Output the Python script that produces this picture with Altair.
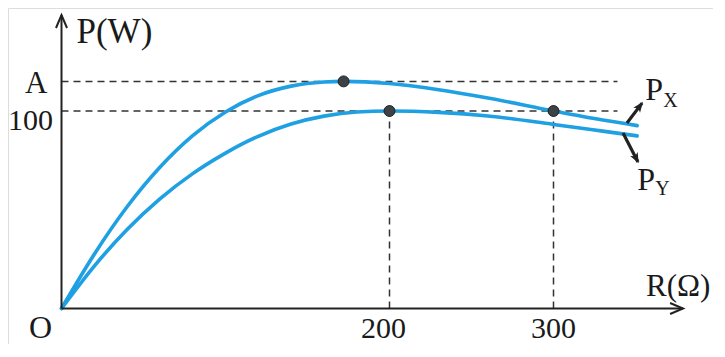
import altair as alt
import pandas as pd

# ---------------- data ----------------
# curve P_X (upper)
R_X = [0, 20, 40, 60, 80, 100, 120, 140, 160, 172, 200, 230, 260, 300, 330, 351]
P_X = [0, 27.5, 51.5, 71.5, 87.5, 99.5, 107.8, 112.6, 114.7, 115, 113.9, 110.8, 106.6, 100, 95.4, 92.6]
# curve P_Y (lower)
R_Y = [0, 20, 40, 60, 80, 100, 120, 140, 160, 180, 200, 230, 260, 300, 330, 351]
P_Y = [0, 21.5, 40.0, 55.5, 68.3, 78.7, 87.2, 93.4, 97.4, 99.5, 100, 99.3, 97.5, 93.2, 89.8, 87.4]

A_VALUE = 115
Y_TICK_VALUES = [A_VALUE, 100]
Y_TICK_LABELS = ["A", "100"]
X_TICK_VALUES = [200, 300]
X_TICK_LABELS = ["200", "300"]

# marked points
DOT_R = [172, 200, 300]
DOT_P = [A_VALUE, 100, 100]

# guide lines
H_GUIDE_P = [A_VALUE, 100]
H_GUIDE_END_R = 339
V_GUIDE_R = [200, 300]
V_GUIDE_TOP_P = [100, 100]

# axes extent
X_AXIS_END = 379
Y_AXIS_END = 148.6

# label arrows (start R, start P, end R, end P)
ARROW_R1 = [344.8, 342.4]
ARROW_P1 = [93.9, 88.9]
ARROW_R2 = [354.0, 351.5]
ARROW_P2 = [104.0, 74.2]
ARROW_ANGLE = [37, 153]

BLUE = "#1ea0e2"
DARK = "#222222"
FONT = "Liberation Serif"

W, H = 705, 336
XS = 1.64     # px per ohm
YS = 1.975    # px per watt
X0 = -53.5 / XS
Y1 = 300.5 / YS
xs = alt.Scale(domain=[X0, X0 + W / XS], nice=False, zero=False)
ys = alt.Scale(domain=[Y1 - H / YS, Y1], nice=False, zero=False)


def X(f):
    return alt.X(f, type="quantitative", scale=xs, axis=None)


def Y(f):
    return alt.Y(f, type="quantitative", scale=ys, axis=None)


curves = pd.DataFrame(
    {"R": R_X + R_Y, "P": P_X + P_Y, "s": ["X"] * len(R_X) + ["Y"] * len(R_Y)}
)

lines = (
    alt.Chart(curves)
    .mark_line(color=BLUE, strokeWidth=3.6, interpolate="monotone", strokeCap="round")
    .encode(x=X("R"), y=Y("P"), detail="s:N")
)

# axes
axes_df = pd.DataFrame(
    {"r1": [0, 0], "p1": [0, 0], "r2": [X_AXIS_END, 0], "p2": [0, Y_AXIS_END]}
)
axes = (
    alt.Chart(axes_df)
    .mark_rule(color=DARK, strokeWidth=2)
    .encode(x=X("r1"), y=Y("p1"), x2="r2:Q", y2="p2:Q")
)
heads_df = pd.DataFrame({"r": [X_AXIS_END, 0], "p": [0, Y_AXIS_END], "a": [90, 0]})
axis_heads = (
    alt.Chart(heads_df)
    .mark_point(
        shape="M -0.85 2 L 0 0 L 0.85 2",
        filled=False,
        stroke=DARK,
        strokeWidth=2,
        size=169,
        opacity=1,
    )
    .encode(x=X("r"), y=Y("p"), angle=alt.Angle("a:Q", scale=None))
)

# dashed guides
hg = pd.DataFrame({"r1": [0, 0], "r2": [H_GUIDE_END_R] * 2, "p": H_GUIDE_P})
h_guides = (
    alt.Chart(hg)
    .mark_rule(color="#333333", strokeWidth=1.5, strokeDash=[7, 5])
    .encode(x=X("r1"), x2="r2:Q", y=Y("p"))
)
vg = pd.DataFrame({"r": V_GUIDE_R, "p1": [0, 0], "p2": V_GUIDE_TOP_P})
v_guides = (
    alt.Chart(vg)
    .mark_rule(color="#333333", strokeWidth=1.5, strokeDash=[7, 5])
    .encode(x=X("r"), y=Y("p1"), y2="p2:Q")
)

# dots
dots = (
    alt.Chart(pd.DataFrame({"r": DOT_R, "p": DOT_P}))
    .mark_point(shape="circle", filled=True, size=120, fill="#3d4246",
                stroke="#1e2124", strokeWidth=1, opacity=1)
    .encode(x=X("r"), y=Y("p"))
)

# label arrows
arr = pd.DataFrame({"r1": ARROW_R1, "p1": ARROW_P1, "r2": ARROW_R2, "p2": ARROW_P2, "a": ARROW_ANGLE})
arrow_shafts = (
    alt.Chart(arr)
    .mark_rule(color=DARK, strokeWidth=3.2)
    .encode(x=X("r1"), y=Y("p1"), x2="r2:Q", y2="p2:Q")
)
arrow_heads = (
    alt.Chart(arr)
    .mark_point(shape="M 0 -0.3 L -0.8 1.7 L 0 1.2 L 0.8 1.7 Z", filled=True,
                fill=DARK, size=110, opacity=1)
    .encode(x=X("r2"), y=Y("p2"), angle=alt.Angle("a:Q", scale=None))
)


def text_layer(r, p, txt, dx, dy, size, align="left"):
    df = pd.DataFrame({"r": [r], "p": [p], "t": [txt]})
    return (
        alt.Chart(df)
        .mark_text(font=FONT, fontSize=size, align=align, baseline="alphabetic",
                   dx=dx, dy=dy, color="#1a1a1a")
        .encode(x=X("r"), y=Y("p"), text="t:N")
    )


texts = [
    text_layer(0, Y_TICK_VALUES[0], Y_TICK_LABELS[0], -14, 11.5, 31, "right"),
    text_layer(0, Y_TICK_VALUES[1], Y_TICK_LABELS[1], -8.5, 19, 30, "right"),
    text_layer(X_TICK_VALUES[0], 0, X_TICK_LABELS[0], -6, 29, 30, "center"),
    text_layer(X_TICK_VALUES[1], 0, X_TICK_LABELS[1], 0, 29, 30, "center"),
    text_layer(0, 0, "O", -21, 29, 32, "center"),
    text_layer(0, Y_AXIS_END, "P(W)", 15, 28, 35, "left"),
    text_layer(X_AXIS_END, 0, "R(Ω)", -37, -13, 31, "left"),
    text_layer(R_X[-1], P_X[-1], "P", 8, -26, 32, "left"),
    text_layer(R_X[-1], P_X[-1], "X", 26, -19, 20, "left"),
    text_layer(R_Y[-1], P_Y[-1], "P", 0, 54, 32, "left"),
    text_layer(R_Y[-1], P_Y[-1], "Y", 18, 59, 20, "left"),
]

chart = (
    alt.layer(h_guides, v_guides, lines, axes, axis_heads, arrow_shafts, arrow_heads, dots, *texts)
    .properties(width=W, height=H, autosize=alt.AutoSizeParams(type="none"), padding=0)
    .configure_view(stroke=None)
    .configure(background="white")
)

chart.save("out.html", embed_options={"renderer": "svg", "actions": False})
